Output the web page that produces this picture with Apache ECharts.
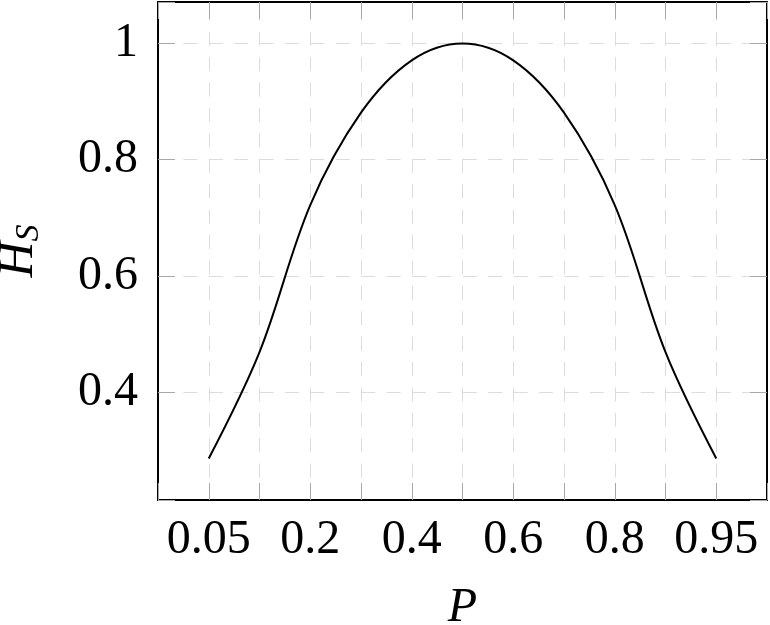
<!DOCTYPE html>
<html><head><meta charset="utf-8">
<script src="https://cdn.jsdelivr.net/npm/echarts@6/dist/echarts.min.js"></script>
<style>html,body{margin:0;padding:0;background:#fff}#c{width:770px;height:625px}</style>
</head><body><div id="c"></div>
<script>
// x categories (evenly spaced symbolic positions)
const categories = ['0.05','0.1','0.2','0.3','0.4','0.5','0.6','0.7','0.8','0.9','0.95'];
const xLabeled = ['0.05','0.2','0.4','0.6','0.8','0.95'];
// H_S values
const hsValues = [0.286,0.469,0.722,0.881,0.971,1.0,0.971,0.881,0.722,0.469,0.286];
const yTickLabels = ['0.4','0.6','0.8','1'];
const xName = 'P';
const yNameMain = 'H';
const yNameSub = 'S';

const FONT = 'Liberation Serif';
const lo = Math.min(...hsValues), hi = Math.max(...hsValues);
const pad = (hi - lo) * 0.1;
const yMin = lo - pad, yMax = hi + pad;

const tickStyle = {show: true, inside: true, length: 17, lineStyle: {color: '#a8a8a8', width: 1}};
const frameLine = {show: true, onZero: false, lineStyle: {color: '#000', width: 2}};

function xLabelFmt(v) {
  const i = Math.round(v);
  if (Math.abs(v - i) > 1e-6 || i < 0 || i >= categories.length) return '';
  return xLabeled.includes(categories[i]) ? categories[i] : '';
}
function yLabelFmt(v) {
  for (const t of yTickLabels) if (Math.abs(Number(t) - v) < 1e-6) return t;
  return '';
}

const chart = echarts.init(document.getElementById('c'), null, {renderer: 'canvas'});
chart.setOption({
  animation: false,
  backgroundColor: '#fff',
  grid: {left: 158, right: 3, top: 2, bottom: 125, containLabel: false, outerBoundsMode: 'none'},
  xAxis: [{
    type: 'value', position: 'bottom', min: -1, max: categories.length, interval: 1,
    axisLine: frameLine, axisTick: tickStyle,
    axisLabel: {formatter: xLabelFmt, fontFamily: FONT, fontSize: 48, color: '#000', margin: 16, showMinLabel: true, showMaxLabel: true, hideOverlap: false},
    splitLine: {show: true, lineStyle: {color: '#dcdcdc', width: 1, type: [14, 11.4], dashOffset: 21}},
    name: xName, nameLocation: 'middle', nameGap: 84,
    nameTextStyle: {fontFamily: FONT, fontSize: 48, fontStyle: 'italic', color: '#000'}
  }, {
    type: 'value', position: 'top', min: -1, max: categories.length, interval: 1,
    axisLine: frameLine, axisTick: tickStyle, axisLabel: {show: false}, splitLine: {show: false}
  }],
  yAxis: [{
    type: 'value', position: 'left', min: yMin, max: yMax, splitNumber: 5,
    axisLine: frameLine, axisTick: tickStyle,
    axisLabel: {formatter: yLabelFmt, fontFamily: FONT, fontSize: 48, color: '#000', margin: 20},
    splitLine: {show: true, lineStyle: {color: '#dcdcdc', width: 1, type: [14, 11.4], dashOffset: 0}},
    name: '{h|' + yNameMain + '}{s|' + yNameSub + '}', nameLocation: 'middle', nameGap: 112,
    nameTextStyle: {
      color: '#000',
      rich: {
        h: {fontFamily: FONT, fontSize: 50, fontStyle: 'italic', color: '#000'},
        s: {fontFamily: FONT, fontSize: 34, fontStyle: 'italic', color: '#000', padding: [20, 0, 0, 0]}
      }
    }
  }, {
    type: 'value', position: 'right', min: yMin, max: yMax, splitNumber: 5,
    axisLine: frameLine, axisTick: tickStyle, axisLabel: {show: false}, splitLine: {show: false}
  }],
  series: [{
    type: 'line', xAxisIndex: 0, yAxisIndex: 0,
    data: hsValues.map((v, i) => [i, v]),
    smooth: 0.35, symbol: 'none',
    lineStyle: {color: '#000', width: 2}
  }]
});
</script></body></html>
